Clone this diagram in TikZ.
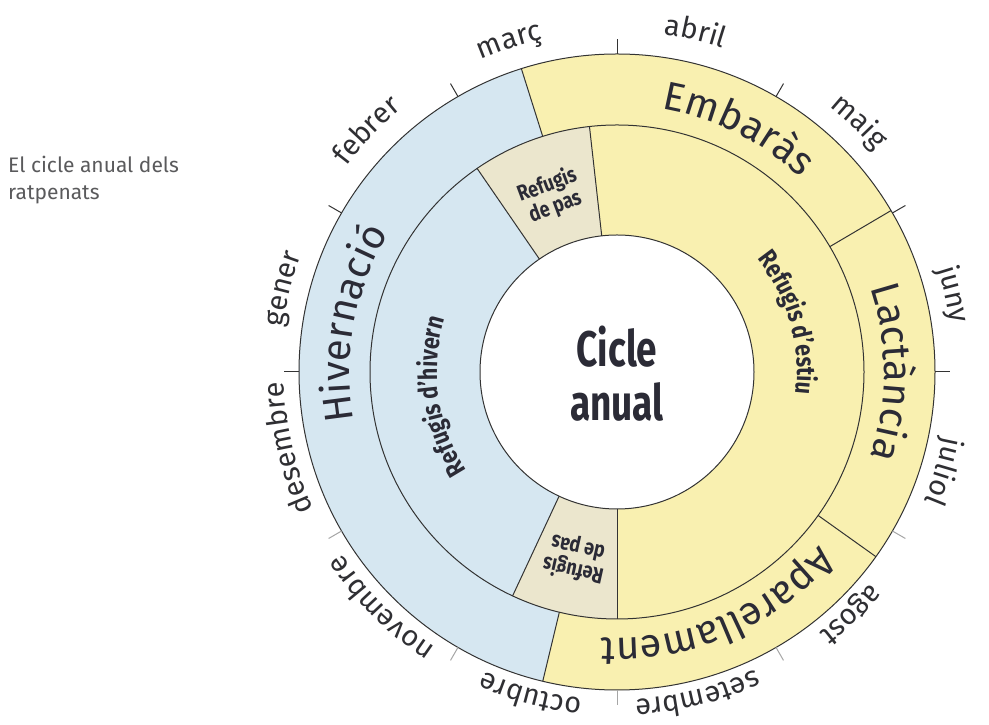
\documentclass[tikz,border=0pt]{standalone}
\usepackage{fontspec}
\setmainfont{Fira Sans}
\newfontfamily\condfont[FakeStretch=0.82]{Fira Sans}
\newfontfamily\centrefont[FakeStretch=0.74]{Fira Sans}
\usetikzlibrary{decorations.text,calc}
\definecolor{blueF}{HTML}{D6E7F1}
\definecolor{yellowF}{HTML}{F9F0B0}
\definecolor{beigeF}{HTML}{EBE6CD}
\definecolor{inkC}{HTML}{2B2B36}
\definecolor{monthC}{HTML}{2F2F33}
\definecolor{lineC}{HTML}{333333}
\definecolor{grayT}{HTML}{5A5A5C}
\newcommand\MonthFmt{\fontsize{29}{31}\selectfont\color{monthC}}
\newcommand\RingFmt{\fontsize{40}{42}\selectfont\color{inkC}}
\newcommand\RefFmt{\condfont\bfseries\fontsize{26}{28}\selectfont\color{inkC}}
\newcommand\RingSector[5]{\fill[#1] ($(C)+({#4}:#3pt)$) arc[start angle=#4,end angle=#5,radius=#3pt] -- ($(C)+({#5}:#2pt)$) arc[start angle=#5,end angle=#4,radius=#2pt] -- cycle;}
\newcommand\ArcLabel[5]{\path[decorate,decoration={text along path,text align=center,text={|#4|#5}}] ($(C)+({#2+#3}:#1pt)$) arc[start angle={#2+#3},end angle={#2-#3},radius=#1pt];}
\begin{document}
\begin{tikzpicture}[x=1pt,y=1pt,
  ringline/.style={draw=lineC,line width=1pt},
  tickline/.style={draw=lineC,line width=1pt},
  pasbox/.style={font=\condfont\bfseries\fontsize{22}{23}\selectfont,text=inkC,align=center,inner sep=0pt}]
\useasboundingbox[fill=white] (0,0) rectangle (989,725);
\coordinate (C) at (617,353);
% outer ring
\RingSector{blueF}{247}{318}{107.5}{256.5}
\RingSector{yellowF}{247}{318}{-103.5}{107.5}
% middle ring
\RingSector{blueF}{137}{247}{124.5}{245}
\RingSector{beigeF}{137}{247}{96.4}{124.5}
\RingSector{beigeF}{137}{247}{245}{270}
\RingSector{yellowF}{137}{247}{-90}{96.4}
% circles
\draw[ringline] (C) circle[radius=318pt];
\draw[ringline] (C) circle[radius=247pt];
\draw[ringline,fill=white] (C) circle[radius=137pt];
% radial boundaries
\foreach \a in {107.5,30.5,-35.5,256.5}
  \draw[ringline] ($(C)+(\a:247pt)$) -- ($(C)+(\a:318pt)$);
\foreach \a in {124.5,96.4,270,245}
  \draw[ringline] ($(C)+(\a:137pt)$) -- ($(C)+(\a:247pt)$);
% ticks
\foreach \a in {0,30,...,180}
  \draw[tickline] ($(C)+(\a:318pt)$) -- ($(C)+(\a:333pt)$);
\foreach \a in {210,240,...,330}
  \draw[tickline,draw=gray!70] ($(C)+(\a:318pt)$) -- ($(C)+(\a:333pt)$);
% months
\ArcLabel{341}{77}{25}{\MonthFmt}{abril}
\ArcLabel{340}{46}{25}{\MonthFmt}{maig}
\ArcLabel{337}{13}{25}{\MonthFmt}{juny}
\ArcLabel{333}{-17}{25}{\MonthFmt}{juliol}
\ArcLabel{330}{-46}{25}{\MonthFmt}{agost}
\ArcLabel{328}{-76}{25}{\MonthFmt}{setembre}
\ArcLabel{328}{-105}{25}{\MonthFmt}{octubre}
\ArcLabel{330}{-135}{25}{\MonthFmt}{novembre}
\ArcLabel{333}{-167}{25}{\MonthFmt}{desembre}
\ArcLabel{337}{166}{25}{\MonthFmt}{gener}
\ArcLabel{340}{136}{25}{\MonthFmt}{febrer}
\ArcLabel{341}{108}{25}{\MonthFmt}{març}
% outer ring labels
\ArcLabel{267}{63.5}{45}{\RingFmt}{Embaràs}
\ArcLabel{267}{169.5}{45}{\RingFmt}{Hivernació}
\ArcLabel{267}{0}{45}{\RingFmt}{Lactància}
\ArcLabel{266}{-67}{45}{\RingFmt}{Aparellament}
% middle ring labels
\ArcLabel{180}{188}{45}{\RefFmt}{Refugis d’hivern}
\ArcLabel{180}{16}{45}{\RefFmt}{Refugis d’estiu}
\node[pasbox,rotate=20.5] (pastop) at ($(C)+(110.5:188pt)$) {Refugis\\de pas};
\node[pasbox,rotate=167.5] (pasbot) at ($(C)+(257.5:191pt)$) {Refugis\\de pas};
% centre
\node[font=\centrefont\bfseries\fontsize{50}{54}\selectfont,text=inkC,align=center] (centre) at ($(C)+(0,-2)$) {Cicle\\anual};
% caption
\node[font=\fontsize{21}{27}\selectfont,text=grayT,align=left,anchor=north west,inner sep=0pt] (caption) at (8,569) {El cicle anual dels\\ratpenats};
\end{tikzpicture}
\end{document}
